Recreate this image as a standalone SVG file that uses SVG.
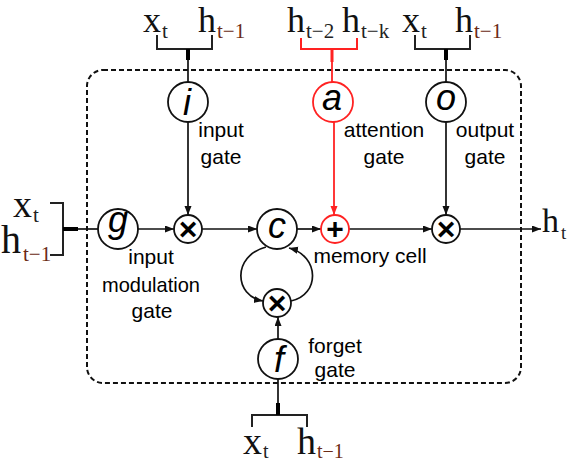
<svg xmlns="http://www.w3.org/2000/svg" width="570" height="464" viewBox="0 0 570 464">
<defs>
<style>
.bg{fill:#ffffff}
.box{fill:none;stroke:#111;stroke-width:2;stroke-dasharray:5 3}
.nd{fill:#fff;stroke:#111;stroke-width:1.8}
.ndr{fill:#fff;stroke:#f22;stroke-width:1.8}
.sym{font-family:"Liberation Sans",Arial,sans-serif;font-style:italic;font-size:36px;fill:#000;text-anchor:middle}
.op{font-family:"Liberation Sans",Arial,sans-serif;font-weight:bold;font-size:32px;fill:#000;text-anchor:middle;dominant-baseline:central}
.lbl{font-family:"Liberation Sans",Arial,sans-serif;font-size:21px;fill:#000;text-anchor:middle}
.m{font-family:"Liberation Serif","Times New Roman",serif;font-size:36px;fill:#111}
.s{font-family:"Liberation Serif","Times New Roman",serif;font-size:21px;fill:#222}
.sr{font-family:"Liberation Serif","Times New Roman",serif;font-size:21px;fill:#6b2a14}
.ln{fill:none;stroke:#111;stroke-width:1.7}
.lnr{fill:none;stroke:#f22;stroke-width:1.8}
.br{fill:none;stroke:#222;stroke-width:2}
.brr{fill:none;stroke:#f22;stroke-width:2}
.thick{fill:none;stroke:#000;stroke-width:4}
.thickr{fill:none;stroke:#f22;stroke-width:3}
</style>
<marker id="ah" markerUnits="userSpaceOnUse" markerWidth="10" markerHeight="8" refX="9" refY="3.5" orient="auto">
<path d="M0,0 L9,3.5 L0,7 z" fill="#111"/>
</marker>
<marker id="ahr" markerUnits="userSpaceOnUse" markerWidth="10" markerHeight="8" refX="9" refY="3.5" orient="auto">
<path d="M0,0 L9,3.5 L0,7 z" fill="#f22"/>
</marker>
</defs>
<rect class="bg" x="0" y="0" width="570" height="464"/>
<rect class="box" x="87" y="70" width="434" height="313" rx="16" ry="16"/>

<g id="inputs">
<path class="br" d="M157 35 V49 H212 V35"/>
<path class="brr" d="M301 38 V49 H357 V38"/>
<path class="br" d="M415 35 V49 H470 V35"/>
<path class="br" d="M252 427 V415 H307 V427"/>
<path class="br" d="M50 203 H63 V255 H50"/>
<text class="m" x="143" y="32">x</text><text class="s" x="162" y="38">t</text>
<text class="m" x="198" y="32">h</text><text class="sr" x="217" y="38">t−1</text>
<text class="m" x="287" y="32">h</text><text class="s" x="306" y="38">t−2</text>
<text class="m" x="342" y="32">h</text><text class="s" x="361" y="38">t−k</text>
<text class="m" x="402" y="32">x</text><text class="s" x="421" y="38">t</text>
<text class="m" x="455" y="32">h</text><text class="sr" x="474" y="38">t−1</text>
<text class="m" x="13" y="217" style="font-size:38px">x</text><text class="s" x="33" y="222">t</text>
<text class="m" x="1" y="253" style="font-size:40px">h</text><text class="sr" x="23" y="261">t−1</text>
<text class="m" x="243" y="454" style="font-size:38px">x</text><text class="s" x="263" y="458" style="font-size:20px">t</text>
<text class="m" x="297" y="454" style="font-size:38px">h</text><text class="sr" x="317" y="458" style="font-size:20px">t−1</text>
<text class="m" x="542" y="232" style="font-size:34px">h</text><text class="s" x="561" y="239" style="font-size:19px">t</text>
</g>

<g id="connectors">
<path class="thick" d="M188 49 V60"/>
<path class="ln" d="M188 60 V82"/>
<path class="thickr" d="M332 49 V62"/>
<path class="lnr" d="M332 62 V82"/>
<path class="thick" d="M446 49 V60"/>
<path class="ln" d="M446 60 V82"/>
<path class="thick" d="M63 229 H78"/>
<path class="ln" d="M78 229 H98"/>
<path class="thick" d="M278 403 V415"/>
<path class="ln" d="M278 379 V403"/>
<path class="ln" d="M188 122 V215" marker-end="url(#ah)"/>
<path class="lnr" d="M334 122 V215" marker-end="url(#ahr)"/>
<path class="ln" d="M446 122 V215" marker-end="url(#ah)"/>
<path class="ln" d="M138 229 H174" marker-end="url(#ah)"/>
<path class="ln" d="M202 229 H257" marker-end="url(#ah)"/>
<path class="ln" d="M297 229 H321" marker-end="url(#ah)"/>
<path class="ln" d="M349 229 H432" marker-end="url(#ah)"/>
<path class="ln" d="M460 229 H541" marker-end="url(#ah)"/>
<path class="ln" d="M278 339 V317" marker-end="url(#ah)"/>
<path class="ln" d="M266 247 C232 256 234 296 263 301" marker-end="url(#ah)"/>
<path class="ln" d="M291 301 C320 295 320 256 289 248" marker-end="url(#ah)"/>
</g>

<g id="node-i"><circle class="nd" cx="188" cy="102" r="20"/><text class="sym" x="187" y="115">i</text></g>
<g id="node-a"><circle class="ndr" cx="333" cy="102" r="20"/><text class="sym" x="332" y="110">a</text></g>
<g id="node-o"><circle class="nd" cx="446" cy="102" r="20"/><text class="sym" x="446" y="110">o</text></g>
<g id="node-g"><circle class="nd" cx="118" cy="229" r="20"/><text class="sym" x="118" y="232">g</text></g>
<g id="node-mul-in"><circle class="nd" cx="188" cy="229" r="14"/><text class="op" x="188" y="229">×</text></g>
<g id="node-c"><circle class="nd" cx="277" cy="229" r="20"/><text class="sym" x="277" y="238">c</text></g>
<g id="node-plus"><circle class="ndr" cx="335" cy="229" r="14"/><text class="op" x="335" y="228" style="font-size:30px">+</text></g>
<g id="node-mul-out"><circle class="nd" cx="446" cy="229" r="14"/><text class="op" x="446" y="229">×</text></g>
<g id="node-mul-f"><circle class="nd" cx="277" cy="303" r="14"/><text class="op" x="277" y="303">×</text></g>
<g id="node-f"><circle class="nd" cx="278" cy="359" r="20"/><text class="sym" x="279" y="372">f</text></g>

<g id="labels">
<text class="lbl" x="221" y="137">input</text>
<text class="lbl" x="221" y="164">gate</text>
<text class="lbl" x="384" y="137">attention</text>
<text class="lbl" x="384" y="164">gate</text>
<text class="lbl" x="485" y="137">output</text>
<text class="lbl" x="485" y="164">gate</text>
<text class="lbl" x="151" y="264">input</text>
<text class="lbl" x="151" y="292" textLength="98" lengthAdjust="spacingAndGlyphs">modulation</text>
<text class="lbl" x="152" y="318">gate</text>
<text class="lbl" x="370" y="263">memory cell</text>
<text class="lbl" x="335" y="353">forget</text>
<text class="lbl" x="335" y="377">gate</text>
</g>
</svg>
